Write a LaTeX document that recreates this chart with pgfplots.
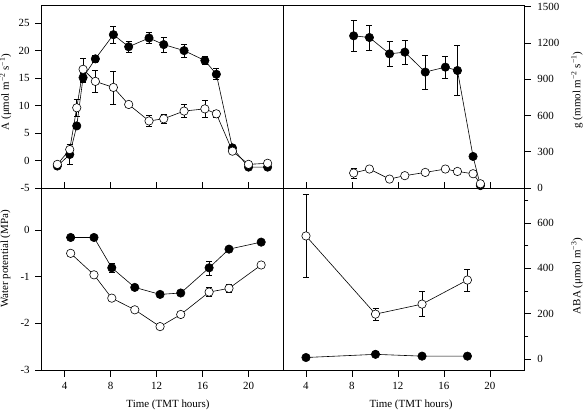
\documentclass[border=0pt]{standalone}
\usepackage{fontspec}
\setmainfont{Liberation Serif}
\usepackage{pgfplots}
\pgfplotsset{compat=1.18}

\pgfplotsset{
  panel/.style={
    scale only axis, width=241.3bp, height=183bp,
    xmin=2, xmax=23, xtick={4,8,12,16,20},
    xtick pos=bottom,
    tick align=outside,
    major tick length=6.5bp, minor tick length=4bp,
    tick style={black, line width=0.5pt},
    axis line style={line width=0.7pt},
    tick label style={font=\fontsize{11}{13}\selectfont},
    xticklabel style={yshift=-2bp},
    /pgf/number format/assume math mode=true,
    /pgf/number format/1000 sep={},
    scaled y ticks=false,
    clip=false,
  },
  leftax/.style={ytick pos=left, yticklabel style={xshift=-2bp}},
  rightax/.style={ytick pos=right, yticklabel pos=right, yticklabel style={xshift=3bp}},
  % x ticks of the upper row point into the panel
  upper/.style={xticklabels={}, every x tick/.append style={yshift=6.5bp}},
  filled/.style={black, line width=0.6pt, mark=*, mark size=4.2bp,
    mark options={fill=black, line width=0.6pt},
    error bars/.cd, y dir=both, y explicit,
    error bar style={line width=0.5pt},
    error mark options={rotate=90, mark size=3bp, line width=0.5pt}},
  open/.style={black, line width=0.6pt, mark=*, mark size=4.2bp,
    mark options={fill=white, line width=0.6pt},
    error bars/.cd, y dir=both, y explicit,
    error bar style={line width=0.5pt},
    error mark options={rotate=90, mark size=3bp, line width=0.5pt}},
}

\newcommand{\lbl}{\fontsize{11}{13}\selectfont}

\begin{document}
\begin{tikzpicture}

% ---------- net assimilation A ----------
\begin{axis}[panel, upper, leftax, at={(41.7bp,-5bp)}, anchor=north west,
  ymin=-5, ymax=28.3, ytick={-5,0,...,25}]
\addplot[filled] table[x=x, y=y, y error=e] {
x     y     e
3.36  -1.0  0
4.44  1.1   1.8
5.05  6.3   0.5
5.60  15.1  0.8
6.67  18.5  0.6
8.24  22.9  1.6
9.57  20.7  1.0
11.34 22.3  1.0
12.62 21.1  1.4
14.39 20.0  1.2
16.20 18.2  0.7
17.20 15.7  1.0
18.60 2.3   0.3
20.00 -1.2  0
21.66 -1.2  0
};
\addplot[open] table[x=x, y=y, y error=e] {
x     y     e
3.36  -0.7  0
4.44  2.0   0.5
5.05  9.6   1.5
5.60  16.6  2.1
6.67  14.4  2.0
8.24  13.3  3.0
9.57  10.2  0
11.34 7.2   1.0
12.62 7.6   0.8
14.39 9.0   1.2
16.20 9.4   1.5
17.20 8.5   0.7
18.60 1.7   0
20.00 -0.7  0
21.66 -0.5  0
};
\end{axis}

% ---------- stomatal conductance g ----------
\begin{axis}[panel, upper, rightax, at={(283bp,-5bp)}, anchor=north west,
  ymin=0, ymax=1514, ytick={0,300,...,1500}]
\addplot[filled] table[x=x, y=y, y error=e] {
x     y     e
8.15  1259  128
9.52  1245  105
11.27 1110  105
12.60 1124  100
14.38 959   140
16.13 1000  90
17.18 972   205
18.54 261   0
19.18 20    0
};
\addplot[open] table[x=x, y=y, y error=e] {
x     y     e
8.15  124   40
9.52  157   0
11.27 74    0
12.60 102   0
14.38 129   0
16.13 157   0
17.18 137   0
18.54 118   0
19.18 35    0
};
\end{axis}

% ---------- leaf water potential ----------
\begin{axis}[panel, leftax, at={(41.7bp,-188bp)}, anchor=north west, height=182bp,
  ymin=-3, ymax=0.9, ytick={-3,-2,-1,0}]
\addplot[filled] table[x=x, y=y, y error=e] {
x     y      e
4.52  -0.16  0
6.55  -0.16  0
8.10  -0.81  0.10
10.10 -1.23  0
12.30 -1.38  0
14.10 -1.35  0
16.57 -0.81  0.15
18.30 -0.41  0
21.10 -0.26  0
};
\addplot[open] table[x=x, y=y, y error=e] {
x     y      e
4.52  -0.50  0
6.55  -0.96  0.04
8.10  -1.46  0
10.10 -1.71  0
12.30 -2.07  0
14.10 -1.81  0.06
16.57 -1.33  0.10
18.30 -1.25  0.08
21.10 -0.75  0
};
\end{axis}

% ---------- xylem ABA ----------
\begin{axis}[panel, rightax, at={(283bp,-188bp)}, anchor=north west, height=182bp,
  ymin=-48, ymax=753, ytick={0,200,400,600}, minor ytick={100,300,500,700}]
\addplot[filled] table[x=x, y=y, y error=e] {
x     y    e
4.00  7    0
10.05 21   0
14.10 13   0
18.05 13   0
};
\addplot[open] table[x=x, y=y, y error=e] {
x     y    e
4.00  542  183
10.05 198  28
14.10 242  55
18.05 348  48
};
\end{axis}

% axis titles
\node[rotate=90, font=\lbl] at (5.5bp,-92bp) {A (μmol m\textsuperscript{−2} s\textsuperscript{−1})};
\node[rotate=90, font=\lbl] at (5.5bp,-259bp) {Water potential (MPa)};
\node[rotate=90, font=\lbl] at (577bp,-90bp) {g (mmol m\textsuperscript{−2} s\textsuperscript{−1})};
\node[rotate=90, font=\lbl] at (577bp,-276bp) {ABA (μmol m\textsuperscript{−3})};
\node[font=\lbl] at (168bp,-405bp) {Time (TMT hours)};
\node[font=\lbl] at (411bp,-405bp) {Time (TMT hours)};

\pgfresetboundingbox
\useasboundingbox (0,0) rectangle (588bp,-413bp);
\end{tikzpicture}
\end{document}
